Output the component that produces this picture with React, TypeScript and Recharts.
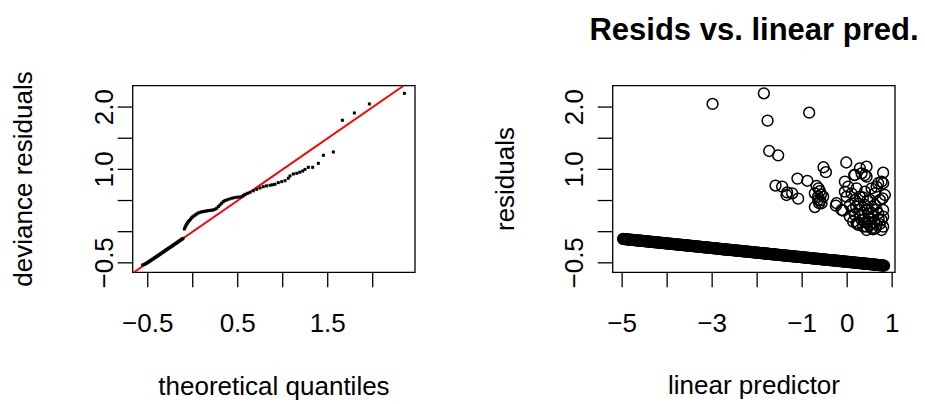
import React from 'react';
import { ScatterChart, Scatter, XAxis, YAxis, ReferenceLine, ReferenceArea } from 'recharts';

const FONT = '"Liberation Sans", Arial, Helvetica, sans-serif';

// ---- QQ plot: [theoretical quantile, deviance residual] ----
const qqPoints: [number, number][] = [
  [-0.556, -0.534], [-0.54, -0.527], [-0.528, -0.518], [-0.517, -0.509], [-0.507, -0.5],
  [-0.497, -0.49], [-0.487, -0.481], [-0.477, -0.472], [-0.468, -0.463], [-0.459, -0.455],
  [-0.45, -0.446], [-0.441, -0.437], [-0.432, -0.428], [-0.423, -0.42], [-0.414, -0.411],
  [-0.405, -0.402], [-0.396, -0.393], [-0.387, -0.384], [-0.378, -0.376], [-0.369, -0.367],
  [-0.36, -0.358], [-0.351, -0.349], [-0.342, -0.34], [-0.333, -0.331], [-0.324, -0.322],
  [-0.315, -0.313], [-0.306, -0.304], [-0.297, -0.295], [-0.288, -0.287], [-0.279, -0.278],
  [-0.27, -0.269], [-0.261, -0.26], [-0.252, -0.252], [-0.243, -0.243], [-0.234, -0.234],
  [-0.225, -0.225], [-0.216, -0.216], [-0.207, -0.207], [-0.198, -0.198], [-0.189, -0.189],
  [-0.18, -0.18], [-0.171, -0.171], [-0.162, -0.162], [-0.153, -0.153], [-0.144, -0.144],
  [-0.135, -0.135], [-0.126, -0.126], [-0.117, -0.117], [-0.108, -0.108],
  [-0.093, 0.043], [-0.085, 0.07], [-0.077, 0.095], [-0.067, 0.12], [-0.058, 0.14],
  [-0.048, 0.16], [-0.037, 0.18], [-0.025, 0.2], [-0.012, 0.222], [0.0, 0.238],
  [0.015, 0.255], [0.03, 0.27], [0.045, 0.285], [0.062, 0.3], [0.08, 0.31],
  [0.1, 0.318], [0.118, 0.322], [0.136, 0.328], [0.155, 0.333], [0.173, 0.337],
  [0.19, 0.341], [0.21, 0.345], [0.229, 0.349], [0.248, 0.36], [0.267, 0.376],
  [0.285, 0.403], [0.303, 0.429], [0.322, 0.457], [0.34, 0.482], [0.358, 0.498],
  [0.378, 0.509], [0.405, 0.523], [0.433, 0.536], [0.46, 0.545], [0.489, 0.552],
  [0.516, 0.557], [0.544, 0.562], [0.563, 0.58], [0.581, 0.6], [0.61, 0.617],
  [0.637, 0.632], [0.673, 0.656], [0.711, 0.68], [0.748, 0.702], [0.784, 0.722],
  [0.82, 0.735], [0.859, 0.745], [0.886, 0.753], [0.914, 0.761], [0.951, 0.787],
  [0.989, 0.803], [1.026, 0.819], [1.062, 0.857], [1.081, 0.894], [1.118, 0.926],
  [1.156, 0.937], [1.19, 0.955], [1.222, 0.974], [1.248, 1.0], [1.285, 1.033],
  [1.333, 1.033], [1.396, 1.097], [1.452, 1.226], [1.563, 1.279], [1.663, 1.788],
  [1.796, 1.905], [1.963, 2.05], [2.352, 2.22],
];

// reference line y = x (end points inside plot range)
const refLine = [-0.652, 2.343];

// ---- Residuals vs linear predictor: [linear predictor, residual] ----
// the dense band of zero-response observations
const bandResid: [number, number][] = [
  [-4.98, -0.117], [-4.94, -0.12], [-4.9, -0.123], [-4.86, -0.126], [-4.82, -0.129],
  [-4.78, -0.132], [-4.74, -0.135], [-4.7, -0.138], [-4.66, -0.141], [-4.62, -0.144],
  [-4.58, -0.146], [-4.54, -0.149], [-4.5, -0.152], [-4.46, -0.155], [-4.42, -0.158],
  [-4.38, -0.161], [-4.34, -0.164], [-4.3, -0.167], [-4.26, -0.17], [-4.22, -0.173],
  [-4.18, -0.176], [-4.14, -0.179], [-4.1, -0.182], [-4.06, -0.185], [-4.02, -0.188],
  [-3.98, -0.191], [-3.94, -0.194], [-3.9, -0.197], [-3.86, -0.2], [-3.82, -0.202],
  [-3.78, -0.205], [-3.74, -0.208], [-3.7, -0.211], [-3.66, -0.214], [-3.62, -0.217],
  [-3.58, -0.22], [-3.54, -0.223], [-3.5, -0.226], [-3.46, -0.229], [-3.42, -0.232],
  [-3.38, -0.235], [-3.34, -0.238], [-3.3, -0.241], [-3.26, -0.244], [-3.22, -0.247],
  [-3.18, -0.25], [-3.14, -0.253], [-3.1, -0.256], [-3.06, -0.258], [-3.02, -0.261],
  [-2.98, -0.264], [-2.94, -0.267], [-2.9, -0.27], [-2.86, -0.273], [-2.82, -0.276],
  [-2.78, -0.279], [-2.74, -0.282], [-2.7, -0.285], [-2.66, -0.288], [-2.62, -0.291],
  [-2.58, -0.294], [-2.54, -0.297], [-2.5, -0.3], [-2.46, -0.303], [-2.42, -0.306],
  [-2.38, -0.309], [-2.34, -0.312], [-2.3, -0.315], [-2.26, -0.317], [-2.22, -0.32],
  [-2.18, -0.323], [-2.14, -0.326], [-2.1, -0.329], [-2.06, -0.332], [-2.02, -0.335],
  [-1.98, -0.338], [-1.94, -0.341], [-1.9, -0.344], [-1.86, -0.347], [-1.82, -0.35],
  [-1.78, -0.353], [-1.74, -0.356], [-1.7, -0.359], [-1.66, -0.362], [-1.62, -0.365],
  [-1.58, -0.368], [-1.54, -0.371], [-1.5, -0.373], [-1.46, -0.376], [-1.42, -0.379],
  [-1.38, -0.382], [-1.34, -0.385], [-1.3, -0.388], [-1.26, -0.391], [-1.22, -0.394],
  [-1.18, -0.397], [-1.14, -0.4], [-1.1, -0.403], [-1.06, -0.406], [-1.02, -0.409],
  [-0.98, -0.412], [-0.94, -0.415], [-0.9, -0.418], [-0.86, -0.421], [-0.82, -0.424],
  [-0.78, -0.427], [-0.74, -0.43], [-0.7, -0.432], [-0.66, -0.435], [-0.62, -0.438],
  [-0.58, -0.441], [-0.54, -0.444], [-0.5, -0.447], [-0.46, -0.45], [-0.42, -0.453],
  [-0.38, -0.456], [-0.34, -0.459], [-0.3, -0.462], [-0.26, -0.465], [-0.22, -0.468],
  [-0.18, -0.471], [-0.14, -0.474], [-0.1, -0.477], [-0.06, -0.48], [-0.02, -0.483],
  [0.02, -0.486], [0.06, -0.488], [0.1, -0.491], [0.14, -0.494], [0.18, -0.497],
  [0.22, -0.5], [0.26, -0.503], [0.3, -0.506], [0.34, -0.509], [0.38, -0.512],
  [0.42, -0.515], [0.46, -0.518], [0.5, -0.521], [0.54, -0.524], [0.58, -0.527],
  [0.62, -0.53], [0.66, -0.533], [0.7, -0.536], [0.74, -0.539], [0.78, -0.542],
  [0.82, -0.545],
];

const bandResidMid: [number, number][] = [
  [-4.96, -0.118], [-4.92, -0.121], [-4.88, -0.124], [-4.84, -0.127], [-4.8, -0.13],
  [-4.76, -0.133], [-4.72, -0.136], [-4.68, -0.139], [-4.64, -0.142], [-4.6, -0.145],
  [-4.56, -0.148], [-4.52, -0.151], [-4.48, -0.154], [-4.44, -0.157], [-4.4, -0.16],
  [-4.36, -0.163], [-4.32, -0.166], [-4.28, -0.169], [-4.24, -0.172], [-4.2, -0.174],
  [-4.16, -0.177], [-4.12, -0.18], [-4.08, -0.183], [-4.04, -0.186], [-4.0, -0.189],
  [-3.96, -0.192], [-3.92, -0.195], [-3.88, -0.198], [-3.84, -0.201], [-3.8, -0.204],
  [-3.76, -0.207], [-3.72, -0.21], [-3.68, -0.213], [-3.64, -0.216], [-3.6, -0.219],
  [-3.56, -0.222], [-3.52, -0.225], [-3.48, -0.228], [-3.44, -0.23], [-3.4, -0.233],
  [-3.36, -0.236], [-3.32, -0.239], [-3.28, -0.242], [-3.24, -0.245], [-3.2, -0.248],
  [-3.16, -0.251], [-3.12, -0.254], [-3.08, -0.257], [-3.04, -0.26], [-3.0, -0.263],
  [-2.96, -0.266], [-2.92, -0.269], [-2.88, -0.272], [-2.84, -0.275], [-2.8, -0.278],
  [-2.76, -0.281], [-2.72, -0.284], [-2.68, -0.287], [-2.64, -0.289], [-2.6, -0.292],
  [-2.56, -0.295], [-2.52, -0.298], [-2.48, -0.301], [-2.44, -0.304], [-2.4, -0.307],
  [-2.36, -0.31], [-2.32, -0.313], [-2.28, -0.316], [-2.24, -0.319], [-2.2, -0.322],
  [-2.16, -0.325], [-2.12, -0.328], [-2.08, -0.331], [-2.04, -0.334], [-2.0, -0.337],
  [-1.96, -0.34], [-1.92, -0.343], [-1.88, -0.345], [-1.84, -0.348], [-1.8, -0.351],
  [-1.76, -0.354], [-1.72, -0.357], [-1.68, -0.36], [-1.64, -0.363], [-1.6, -0.366],
  [-1.56, -0.369], [-1.52, -0.372], [-1.48, -0.375], [-1.44, -0.378], [-1.4, -0.381],
  [-1.36, -0.384], [-1.32, -0.387], [-1.28, -0.39], [-1.24, -0.393], [-1.2, -0.396],
  [-1.16, -0.399], [-1.12, -0.401], [-1.08, -0.404], [-1.04, -0.407], [-1.0, -0.41],
  [-0.96, -0.413], [-0.92, -0.416], [-0.88, -0.419], [-0.84, -0.422], [-0.8, -0.425],
  [-0.76, -0.428], [-0.72, -0.431], [-0.68, -0.434], [-0.64, -0.437], [-0.6, -0.44],
  [-0.56, -0.443], [-0.52, -0.446], [-0.48, -0.449], [-0.44, -0.452], [-0.4, -0.455],
  [-0.36, -0.457], [-0.32, -0.46], [-0.28, -0.463], [-0.24, -0.466], [-0.2, -0.469],
  [-0.16, -0.472], [-0.12, -0.475], [-0.08, -0.478], [-0.04, -0.481], [0.0, -0.484],
  [0.04, -0.487], [0.08, -0.49], [0.12, -0.493], [0.16, -0.496], [0.2, -0.499],
  [0.24, -0.502], [0.28, -0.505], [0.32, -0.508], [0.36, -0.511], [0.4, -0.514],
  [0.44, -0.516], [0.48, -0.519], [0.52, -0.522], [0.56, -0.525], [0.6, -0.528],
  [0.64, -0.531], [0.68, -0.534], [0.72, -0.537], [0.76, -0.54], [0.8, -0.543],
];

// the scattered positive-response observations
const scatterResid: [number, number][] = [
  [-2.991, 2.05], [-1.851, 2.221], [-1.769, 1.782], [-0.844, 1.91], [-1.733, 1.295],
  [-1.533, 1.225], [-1.592, 0.74], [-1.444, 0.723], [-1.333, 0.63], [-1.222, 0.616],
  [-1.089, 0.53], [-1.105, 0.852], [-0.885, 0.817], [-0.68, 0.733], [-0.636, 0.696],
  [-0.607, 0.65], [-0.718, 0.616], [-0.533, 0.562], [-0.644, 0.509], [-0.569, 0.456],
  [-0.622, 0.456], [-0.718, 0.395], [-0.525, 1.034], [-0.473, 0.955], [-0.251, 0.418],
  [-0.236, 0.456], [-0.124, 0.348], [-0.089, 0.337], [-0.02, 1.11], [0.171, 0.91],
  [0.156, 0.91], [0.282, 1.017], [0.431, 1.043], [0.32, 0.937], [0.393, 0.91],
  [0.8, 0.947], [0.764, 0.803], [-0.051, 0.803], [0.022, 0.723], [-0.013, 0.562],
  [0.098, 0.616], [0.209, 0.696], [0.06, 0.428], [0.171, 0.509], [0.282, 0.562],
  [0.393, 0.642], [0.542, 0.696], [0.689, 0.777], [0.616, 0.616], [0.504, 0.509],
  [0.393, 0.428], [0.282, 0.348], [0.171, 0.268], [0.06, 0.241], [0.133, 0.161],
  [0.244, 0.108], [0.356, 0.08], [0.467, 0.161], [0.578, 0.241], [0.689, 0.295],
  [0.8, 0.348], [0.764, 0.188], [0.653, 0.108], [0.542, 0.055], [0.431, 0.027],
  [0.764, 0.027], [0.32, 0.188], [0.467, 0.295], [0.616, 0.428], [0.727, 0.509],
  [0.838, 0.589], [0.8, 0.777], [-0.051, 0.642], [0.111, 0.348], [0.209, 0.135],
  [0.431, 0.08], [0.578, 0.039], [0.8, 0.08], [0.244, 0.135], [0.653, 0.723],
  [0.787, 0.536], [0.8, 0.241], [0.431, 0.883], [-1.348, 0.589],
  [0.35, 0.3], [0.45, 0.35], [0.55, 0.3], [0.5, 0.2], [0.4, 0.15],
  [0.3, 0.25], [0.6, 0.15], [0.7, 0.2], [0.25, 0.45], [0.45, 0.5],
  [0.55, 0.4], [0.65, 0.35], [0.35, 0.55], [0.2, 0.4], [0.5, 0.1],
  [0.62, 0.05], [0.72, 0.12], [-0.58, 0.6], [-0.65, 0.56], [-0.6, 0.5],
];

// ---- tick values and labels ----
const residTicks = [-0.5, 0, 0.5, 1, 1.5, 2];
const residLabels = ['\u22120.5', '', '', '1.0', '', '2.0'];
const qqXTicks = [-0.5, 0, 0.5, 1, 1.5, 2];
const qqXLabels = ['\u22120.5', '', '0.5', '', '1.5', ''];
const lpXTicks = [-5, -4, -3, -2, -1, 0, 1];
const lpXLabels = ['\u22125', '', '\u22123', '', '\u22121', '0', '1'];

const qqData = qqPoints.map(([x, y]) => ({ x, y }));
const bandData = bandResid.concat(bandResidMid).map(([x, y]) => ({ x, y }));
const scatData = scatterResid.map(([x, y]) => ({ x, y }));

const Y_DOMAIN: [number, number] = [-0.652, 2.343];
const QQ_X_DOMAIN: [number, number] = [-0.667, 2.47];
const LP_X_DOMAIN: [number, number] = [-5.21, 1.063];

const makeXTick = (ticks: number[], labels: string[]) => (props: any) => {
  const i = ticks.indexOf(props.payload.value);
  const lab = i >= 0 ? labels[i] : '';
  return (
    <text x={props.x} y={331.5} textAnchor="middle" fontSize={26} fontFamily={FONT} fill="#000">
      {lab}
    </text>
  );
};

const makeYTick = (ticks: number[], labels: string[], bx: number) => (props: any) => {
  const i = ticks.indexOf(props.payload.value);
  const lab = i >= 0 ? labels[i] : '';
  return (
    <text
      x={bx}
      y={props.y}
      transform={`rotate(-90 ${bx} ${props.y})`}
      textAnchor="middle"
      fontSize={26}
      fontFamily={FONT}
      fill="#000"
    >
      {lab}
    </text>
  );
};

const Square = (p: any) => <rect x={p.cx - 1.5} y={p.cy - 1.5} width={3} height={3} fill="#000" />;
const Ring = (p: any) => <circle cx={p.cx} cy={p.cy} r={5.4} fill="none" stroke="#000" strokeWidth={1.5} />;

const tickLineStyle = { stroke: '#000', strokeWidth: 1.3 };

export default function App() {
  return (
    <div style={{ position: 'absolute', left: 0, top: 0, width: 925, height: 404, background: '#fff' }}>
      <div style={{ position: 'absolute', left: 0, top: 0 }}>
        <ScatterChart width={470} height={404} margin={{ left: 72.7, right: 55, top: 85.7, bottom: 71.7 }}>
          <XAxis
            type="number"
            dataKey="x"
            domain={QQ_X_DOMAIN}
            allowDataOverflow
            ticks={qqXTicks}
            interval={0}
            height={60}
            axisLine={false}
            tickLine={tickLineStyle}
            tickSize={15}
            tick={makeXTick(qqXTicks, qqXLabels)}
          />
          <YAxis
            type="number"
            dataKey="y"
            domain={Y_DOMAIN}
            allowDataOverflow
            ticks={residTicks}
            interval={0}
            width={60}
            axisLine={false}
            tickLine={tickLineStyle}
            tickSize={15}
            tick={makeYTick(residTicks, residLabels, 113)}
          />
          <ReferenceArea
            x1={QQ_X_DOMAIN[0]}
            x2={QQ_X_DOMAIN[1]}
            y1={Y_DOMAIN[0]}
            y2={Y_DOMAIN[1]}
            fill="none"
            fillOpacity={0}
            stroke="#000"
            strokeWidth={1.3}
            ifOverflow="visible"
          />
          <ReferenceLine
            segment={[{ x: refLine[0], y: refLine[0] }, { x: refLine[1], y: refLine[1] }]}
            stroke="#ff0000"
            strokeWidth={2}
            ifOverflow="visible"
          />
          <Scatter data={qqData} shape={Square} isAnimationActive={false} />
        </ScatterChart>
      </div>
      <div style={{ position: 'absolute', left: 470, top: 0 }}>
        <ScatterChart width={455} height={404} margin={{ left: 82.7, right: 30, top: 85.7, bottom: 71.7 }}>
          <XAxis
            type="number"
            dataKey="x"
            domain={LP_X_DOMAIN}
            allowDataOverflow
            ticks={lpXTicks}
            interval={0}
            height={60}
            axisLine={false}
            tickLine={tickLineStyle}
            tickSize={15}
            tick={makeXTick(lpXTicks, lpXLabels)}
          />
          <YAxis
            type="number"
            dataKey="y"
            domain={Y_DOMAIN}
            allowDataOverflow
            ticks={residTicks}
            interval={0}
            width={60}
            axisLine={false}
            tickLine={tickLineStyle}
            tickSize={15}
            tick={makeYTick(residTicks, residLabels, 113)}
          />
          <ReferenceArea
            x1={LP_X_DOMAIN[0]}
            x2={LP_X_DOMAIN[1]}
            y1={Y_DOMAIN[0]}
            y2={Y_DOMAIN[1]}
            fill="none"
            fillOpacity={0}
            stroke="#000"
            strokeWidth={1.3}
            ifOverflow="visible"
          />
          <Scatter data={bandData} shape={Ring} isAnimationActive={false} />
          <Scatter data={scatData} shape={Ring} isAnimationActive={false} />
        </ScatterChart>
      </div>
      <svg
        width={925}
        height={404}
        style={{ position: 'absolute', left: 0, top: 0, pointerEvents: 'none' }}
        fontFamily={FONT}
        fill="#000"
      >
        <text x={754} y={40} textAnchor="middle" fontSize={31} fontWeight="bold">
          Resids vs. linear pred.
        </text>
        <text x={32} y={179} transform="rotate(-90 32 179)" textAnchor="middle" fontSize={26}>
          deviance residuals
        </text>
        <text x={514} y={179} transform="rotate(-90 514 179)" textAnchor="middle" fontSize={26}>
          residuals
        </text>
        <text x={274} y={395} textAnchor="middle" fontSize={26}>
          theoretical quantiles
        </text>
        <text x={754} y={394} textAnchor="middle" fontSize={26}>
          linear predictor
        </text>
      </svg>
    </div>
  );
}
